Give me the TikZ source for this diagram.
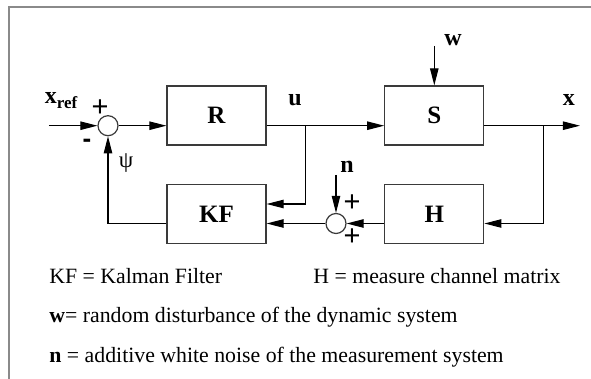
\documentclass[tikz,border=0pt]{standalone}
\usepackage{fontspec}
\setmainfont{Liberation Serif}
\newfontfamily\signfont{Liberation Sans}
\usepackage{tikz}
\usetikzlibrary{
  arrows.meta,
  calc
}
\definecolor{framegray}{HTML}{8A8A8A}
\definecolor{linegray}{HTML}{3A3A3A}
\tikzset{
  block/.style={
    draw=linegray,
    line width=0.6pt,
    minimum width=49.5pt,
    minimum height=29.5pt,
    inner sep=0pt,
    font=\fontsize{12.5}{14}\selectfont\bfseries
  },
  sum/.style={
    circle,
    draw=linegray,
    line width=0.6pt,
    minimum size=10pt,
    inner sep=0pt
  },
  arrow/.style={-{Triangle[length=8.5pt,width=4.2pt]}, line width=0.55pt, draw=black},
  signal/.style={font=\fontsize{12}{14}\selectfont\bfseries, inner sep=0pt},
  sign/.style={font=\signfont\fontsize{14.5}{16}\selectfont, inner sep=0pt},
  note/.style={font=\fontsize{10.9}{13}\selectfont, anchor=base west, inner sep=0pt},
  frame/.style={draw=framegray, line width=0.9pt}
}
\begin{document}
\begin{tikzpicture}[x=0.5pt, y=-0.5pt]
  \useasboundingbox (0,0) rectangle (591,379);
  \draw[frame] (591,7) -- (9,7) -- (9,379);

  % blocks of the loop
  \node[block] (R) at (216.5,115.5) {R};
  \node[block] (S) at (434.3,115.5) {S};
  \node[block] (KF) at (216.5,214.3) {KF};
  \node[block] (H) at (434.3,214.3) {H};
  \node[sum] (sum1) at (108,125.7) {};
  \node[sum] (sum2) at (336,223.5) {};

  \coordinate (in) at (49,125.7);
  \coordinate (ubr) at (305.7,125.7);
  \coordinate (ukf) at (305.7,204);
  \coordinate (xbr) at (543.3,125.7);
  \coordinate (out) at (580,125.7);
  \coordinate (wtop) at (434.3,46);
  \coordinate (ntop) at (336,175);

  \draw[arrow] (in) -- (sum1.west);
  \draw[arrow] (sum1.east) -- (sum1 -| R.west);
  \draw[arrow] (R.east |- sum1) -- (S.west |- sum1);
  \draw[arrow] (S.east |- sum1) -- (out);
  \draw[arrow] (ubr) -- (ukf) -- (ukf -| KF.east);
  \draw[arrow] (xbr) |- (H.east |- sum2);
  \draw[arrow] (H.west |- sum2) -- (sum2.east);
  \draw[arrow] (sum2.west) -- (sum2 -| KF.east);
  \draw[arrow] (KF.west |- sum2) -| (sum1.south);
  \draw[arrow] (wtop) -- (S.north);
  \draw[arrow] (ntop) -- (sum2.north);

  % signals and signs
  \node[signal] (xref) at (61,101)
    {x\raisebox{-0.45ex}{\fontsize{8.5}{9}\selectfont ref}};
  \node[signal] (u) at (295,100) {u};
  \node[signal] (x) at (569,100) {x};
  \node[signal] (w) at (453,40) {w};
  \node[signal] (n) at (347,167) {n};
  \node[font=\fontsize{11.5}{13}\selectfont, inner sep=0pt] (psi) at (126,163) {ψ};
  \node[sign] (p1) at (100,108) {+};
  \node[sign, font=\signfont\bfseries\fontsize{13}{14}\selectfont] (m1) at (87,143) {-};
  \node[sign] (p2) at (352,203) {+};
  \node[sign] (p3) at (352,237) {+};

  % legend
  \node[note] (lkf) at (49,284) {KF = Kalman Filter};
  \node[note] (lh) at (313,284) {H = measure channel matrix};
  \node[note] (lw) at (49,323) {\textbf{w}= random disturbance of the dynamic system};
  \node[note] (ln) at (49,363) {\textbf{n} = additive white noise of the measurement system};
\end{tikzpicture}
\end{document}
